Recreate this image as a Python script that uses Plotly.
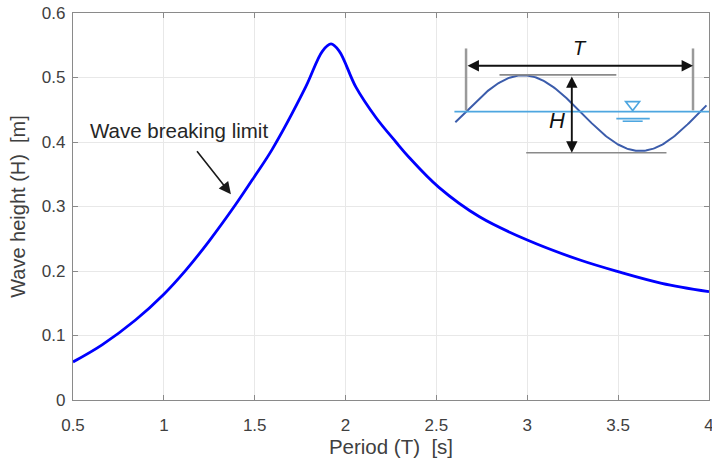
import numpy as np
import plotly.graph_objects as go

# ---- data ----
period_T = [0.5, 0.66, 0.844, 1.0, 1.12, 1.248, 1.395, 1.5, 1.597, 1.78, 1.873,
            1.92, 1.965, 2.057, 2.167, 2.277, 2.35, 2.512, 2.737, 3.0, 3.29, 3.5, 3.74, 4.0]
wave_H = [0.059, 0.0855, 0.124, 0.164, 0.201, 0.246, 0.303, 0.347, 0.389, 0.485, 0.541,
          0.552, 0.541, 0.485, 0.438, 0.400, 0.376, 0.330, 0.284, 0.248, 0.217, 0.199, 0.181, 0.168]

x_ticks = [0.5, 1, 1.5, 2, 2.5, 3, 3.5, 4]
x_ticklabels = ["0.5", "1", "1.5", "2", "2.5", "3", "3.5", "4"]
y_ticks = [0, 0.1, 0.2, 0.3, 0.4, 0.5, 0.6]
y_ticklabels = ["0", "0.1", "0.2", "0.3", "0.4", "0.5", "0.6"]

FONT = "Liberation Sans, Arial, sans-serif"
TXT = "#404040"
AX = "#8a8a8a"
GRID = "#e8e8e8"

fig = go.Figure()

# inset sketch: sinusoidal wave (illustration)
sx = np.linspace(2.604, 3.986, 200)
sy = 0.4448 + 0.0587 * np.sin(2 * np.pi * (sx - 2.654) / 1.29)

shapes = []
# water line
shapes.append(dict(type="line", x0=2.599, x1=4.0, y0=0.4471, y1=0.4471,
                   line=dict(color="#4da6e0", width=1.8)))
# vertical grey bars
for xv in (2.663, 3.912):
    shapes.append(dict(type="line", x0=xv, x1=xv, y0=0.449, y1=0.545,
                       line=dict(color="#9a9a9a", width=2.5)))
# crest/trough reference lines
shapes.append(dict(type="line", x0=2.847, x1=3.490, y0=0.504, y1=0.504,
                   line=dict(color="#8a8a8a", width=1.6)))
shapes.append(dict(type="line", x0=2.994, x1=3.766, y0=0.3833, y1=0.3833,
                   line=dict(color="#8a8a8a", width=1.6)))
# water symbol
shapes.append(dict(type="path", path="M 3.541 0.4626 L 3.618 0.4626 L 3.580 0.4487 Z",
                   line=dict(color="#4da6e0", width=1.6), fillcolor="rgba(0,0,0,0)"))
shapes.append(dict(type="line", x0=3.490, x1=3.674, y0=0.4363, y1=0.4363,
                   line=dict(color="#4da6e0", width=1.6)))
shapes.append(dict(type="line", x0=3.525, x1=3.635, y0=0.4322, y1=0.4322,
                   line=dict(color="#4da6e0", width=1.6)))

fig.add_trace(go.Scatter(x=sx, y=sy, mode="lines", line=dict(color="#3b5cab", width=2),
                         hoverinfo="skip", showlegend=False))

fig.add_trace(go.Scatter(x=period_T, y=wave_H, mode="lines",
                         line=dict(color="#0000ff", width=2.8, shape="spline", smoothing=1.0),
                         showlegend=False))

annotations = [
    dict(x=1.083, y=0.418, text="Wave breaking limit", showarrow=False,
         font=dict(family=FONT, size=20.5, color="#262626")),
    dict(x=1.369, y=0.319, ax=1.176, ay=0.388, axref="x", ayref="y", text="",
         showarrow=True, arrowhead=2, arrowsize=1.5, arrowwidth=1.6, arrowcolor="#1a1a1a"),
    # T arrow
    dict(x=3.912, y=0.5183, ax=2.663, ay=0.5183, axref="x", ayref="y", text="",
         showarrow=True, arrowhead=2, arrowside="end+start", arrowsize=1.2, arrowwidth=1.9,
         arrowcolor="#111111"),
    # H arrow
    dict(x=3.245, y=0.3833, ax=3.245, ay=0.504, axref="x", ayref="y", text="",
         showarrow=True, arrowhead=2, arrowside="end+start", arrowsize=1.2, arrowwidth=1.9,
         arrowcolor="#111111"),
    dict(x=3.288, y=0.546, text="<i>T</i>", showarrow=False,
         font=dict(family=FONT, size=20, color="#111111")),
    dict(x=3.166, y=0.433, text="<i>H</i>", showarrow=False,
         font=dict(family=FONT, size=22, color="#111111")),
]

fig.update_layout(
    width=712, height=462,
    margin=dict(l=73, r=3, t=13, b=62, autoexpand=False),
    paper_bgcolor="white", plot_bgcolor="white",
    font=dict(family=FONT, color=TXT),
    shapes=shapes, annotations=annotations,
    showlegend=False,
)
fig.update_xaxes(range=[0.5, 4], tickvals=x_ticks, ticktext=x_ticklabels,
                 showgrid=True, gridcolor=GRID, gridwidth=1,
                 showline=True, linecolor=AX, linewidth=1.2, mirror="ticks",
                 ticks="inside", ticklen=5, tickcolor=AX, ticklabelstandoff=9,
                 ticklabeloverflow="allow", automargin=False,
                 tickfont=dict(size=17, color=TXT), zeroline=False,
                 title=dict(text="Period (T)  [s]", font=dict(size=20.5, color=TXT), standoff=6))
fig.update_yaxes(range=[0, 0.6], tickvals=y_ticks, ticktext=y_ticklabels,
                 showgrid=True, gridcolor=GRID, gridwidth=1,
                 showline=True, linecolor=AX, linewidth=1.2, mirror="ticks",
                 ticks="inside", ticklen=5, tickcolor=AX, ticklabelstandoff=3,
                 automargin=False,
                 tickfont=dict(size=17, color=TXT), zeroline=False,
                 title=dict(text="Wave height (H)  [m]", font=dict(size=20, color=TXT), standoff=10))

fig.write_html("out.html")
